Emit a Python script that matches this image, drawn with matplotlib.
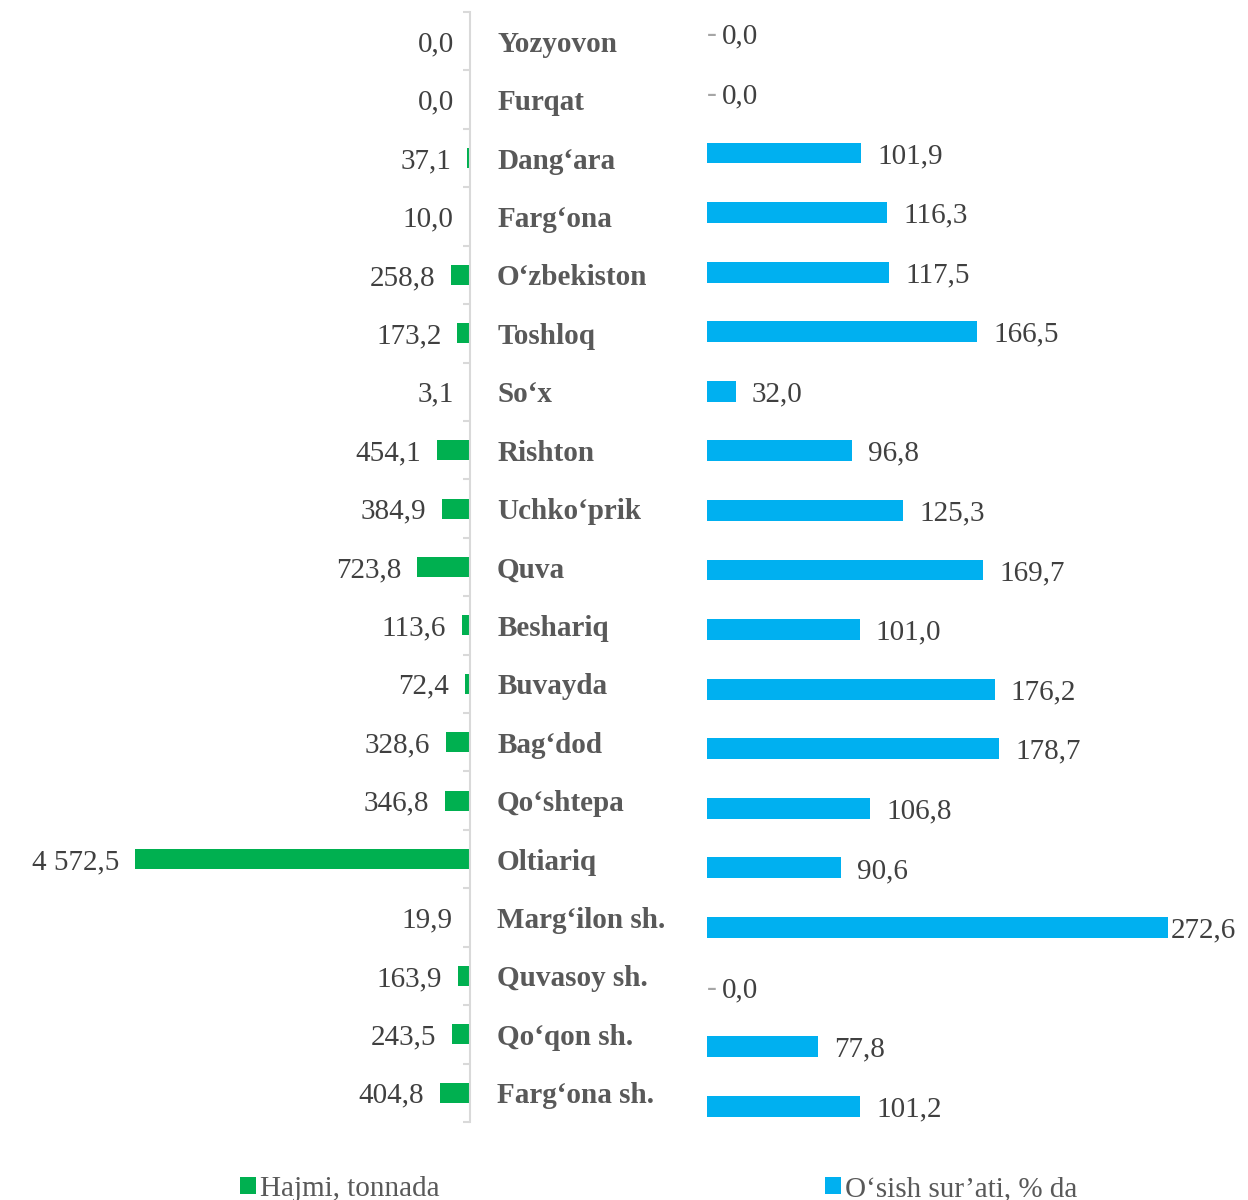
import matplotlib.pyplot as plt
import numpy as np

plt.rcParams['font.family'] = ['Liberation Serif', 'DejaVu Serif']

districts = ["Yozyovon", "Furqat", "Dang‘ara", "Farg‘ona", "O‘zbekiston", "Toshloq",
             "So‘x", "Rishton", "Uchko‘prik", "Quva", "Beshariq", "Buvayda", "Bag‘dod",
             "Qo‘shtepa", "Oltiariq", "Marg‘ilon sh.", "Quvasoy sh.", "Qo‘qon sh.",
             "Farg‘ona sh."]
volume = [0.0, 0.0, 37.1, 10.0, 258.8, 173.2, 3.1, 454.1, 384.9, 723.8, 113.6, 72.4,
          328.6, 346.8, 4572.5, 19.9, 163.9, 243.5, 404.8]
growth = [0.0, 0.0, 101.9, 116.3, 117.5, 166.5, 32.0, 96.8, 125.3, 169.7, 101.0, 176.2,
          178.7, 106.8, 90.6, 272.6, 0.0, 77.8, 101.2]
legend_labels = ["Hajmi, tonnada", "O‘sish sur’ati, % da"]

green = '#00B050'
blue = '#00B0F0'
txt = '#404040'
cat_col = '#595959'
fs = 21


def fmt(v):
    return f"{v:,.1f}".replace(',', ' ').replace('.', ',')


W, H = 1248, 1200
fig = plt.figure(figsize=(W / 100, H / 100), dpi=100)
n = len(districts)
y = np.arange(n)

# left panel: volume, bars growing to the left
ax_l = fig.add_axes([0, 78 / H, 470 / W, 1110 / H])
bars_l = ax_l.barh(y, [-v for v in volume], height=0.34, color=green)
ax_l.set_xlim(-470 / 0.07326, 0)
ax_l.set_ylim(n - 0.5, -0.5)
for s in ['left', 'top', 'bottom']:
    ax_l.spines[s].set_visible(False)
ax_l.spines['right'].set_color('#d9d9d9')
ax_l.spines['right'].set_linewidth(1.5)
ax_l.set_xticks([])
ax_l.yaxis.tick_right()
ax_l.set_yticks(np.arange(n + 1) - 0.5)
ax_l.set_yticklabels([])
ax_l.tick_params(axis='y', direction='in', length=5, width=1.5, color='#d9d9d9')

for i, (name, v) in enumerate(zip(districts, volume)):
    ax_l.annotate(name, xy=(0, i), xytext=(19.5, 0), textcoords='offset points',
                  ha='left', va='center_baseline', fontsize=fs, fontweight='bold',
                  color=cat_col, annotation_clip=False)
    ax_l.annotate(fmt(v), xy=(-v, i), xytext=(-11.5, 0), textcoords='offset points',
                  ha='right', va='center_baseline', fontsize=fs, color=txt,
                  annotation_clip=False)

# right panel: growth rate
xmin = 15.9
ax_r = fig.add_axes([707 / W, 64 / H, 541 / W, 1132 / H])
bars_r = ax_r.barh(y, growth, height=0.35, color=blue)
ax_r.set_xlim(xmin, xmin + 541 / 1.7955)
ax_r.set_ylim(n - 0.5, -0.5)
ax_r.axis('off')

gmax = max(growth)
for i, v in enumerate(growth):
    if v <= xmin:
        ax_r.annotate('-', xy=(xmin, i), xytext=(0, 1), textcoords='offset points',
                      ha='left', va='center_baseline', fontsize=fs, color='#a6a6a6',
                      annotation_clip=False)
        ax_r.annotate(fmt(v), xy=(xmin, i), xytext=(10.5, 0), textcoords='offset points',
                      ha='left', va='center_baseline', fontsize=fs, color=txt,
                      annotation_clip=False)
    else:
        pad = 2 if v == gmax else 11.5
        ax_r.annotate(fmt(v), xy=(v, i), xytext=(pad, 0), textcoords='offset points',
                      ha='left', va='center_baseline', fontsize=fs, color=txt,
                      annotation_clip=False)

# legends
for bars, label, xpos in [(bars_l, legend_labels[0], 240), (bars_r, legend_labels[1], 825)]:
    fig.legend([bars], [label], loc='center left',
               bbox_to_anchor=(xpos / W, 1 - 1189 / H), bbox_transform=fig.transFigure,
               frameon=False, fontsize=fs, handlelength=0.55, handleheight=0.55,
               handletextpad=0.15, borderpad=0, borderaxespad=0, labelcolor=cat_col)

fig.savefig('out.png', dpi=100)
